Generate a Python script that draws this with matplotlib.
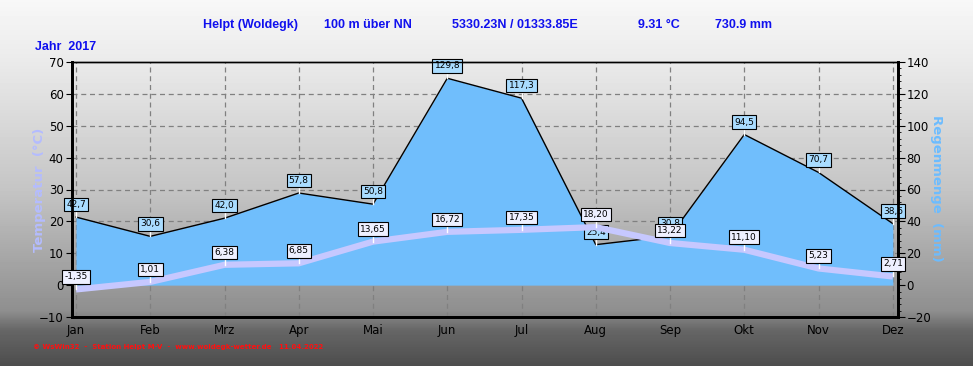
import numpy as np
import matplotlib
matplotlib.use("Agg")
import matplotlib.pyplot as plt
from matplotlib.ticker import MultipleLocator, AutoMinorLocator

months = ["Jan", "Feb", "Mrz", "Apr", "Mai", "Jun", "Jul", "Aug", "Sep", "Okt", "Nov", "Dez"]
rain = [42.7, 30.6, 42.0, 57.8, 50.8, 129.8, 117.3, 25.4, 30.8, 94.5, 70.7, 38.6]
temp = [-1.35, 1.01, 6.38, 6.85, 13.65, 16.72, 17.35, 18.20, 13.22, 11.10, 5.23, 2.71]

title_parts = [("Helpt (Woldegk)", 203), ("100 m über NN", 324),
               ("5330.23N / 01333.85E", 452), ("9.31 °C", 638), ("730.9 mm", 715)]

W, H = 973, 366
fig = plt.figure(figsize=(W / 100, H / 100), dpi=100)

# background gradient
bg = fig.add_axes([0, 0, 1, 1], zorder=-10)
yy = np.arange(H)
shade = np.interp(yy, [0, 60, 190, 310, 330, 366], [0.97, 0.92, 0.77, 0.56, 0.40, 0.30])
img = np.repeat(shade[:, None], 4, axis=1)
bg.imshow(img, cmap="gray", vmin=0, vmax=1, aspect="auto", extent=[0, 1, 0, 1])
bg.axis("off")

ax = fig.add_axes([72 / W, 1 - 317 / H, (898 - 72) / W, (317 - 62) / H])
ax.patch.set_alpha(0)
x = np.arange(len(months))
ax.set_xlim(-0.054, 11.07)
ax.set_ylim(-10, 70)

ax2 = ax.twinx()
ax2.set_ylim(-20, 140)

# grid below the rain area
for v in range(20, 140, 20):
    ax2.axhline(v, color="#808080", lw=0.9, ls=(0, (4, 3)), zorder=0)
for xi in x:
    ax2.axvline(xi, color="#808080", lw=0.9, ls=(0, (4, 3)), zorder=0)

ax2.fill_between(x, 0, rain, color="#70befc", zorder=1, lw=0)
ax2.plot(x, rain, color="black", lw=1, zorder=2)
ax.set_zorder(ax2.get_zorder() + 1)
ax.plot(x, temp, color="#c6c8ff", lw=4.5, zorder=3, solid_capstyle="butt")

box_rain = dict(boxstyle="square,pad=0.25", fc="#a9dcff", ec="black", lw=0.8)
box_temp = dict(boxstyle="square,pad=0.25", fc="#eef0ff", ec="black", lw=0.8)
for xi, r in zip(x, rain):
    ax2.annotate(f"{r:.1f}".replace(".", ","), (xi, r), xytext=(0, 9), textcoords="offset points",
                 ha="center", va="center", fontsize=6.5, bbox=box_rain, zorder=4)
    ax2.plot([xi, xi], [r, r + 4], color="white", lw=1, zorder=3)
for xi, t in zip(x, temp):
    ax.annotate(f"{t:.2f}".replace(".", ","), (xi, t), xytext=(0, 9), textcoords="offset points",
                ha="center", va="center", fontsize=6.5, bbox=box_temp, zorder=6)
    ax.plot([xi, xi], [t, t + 2.2], color="white", lw=1, zorder=5)

ax.set_xticks(x)
ax.set_xticklabels(months, fontsize=8.5)
ax.tick_params(axis="x", length=0, pad=5)
ax.yaxis.set_major_locator(MultipleLocator(10))
ax.tick_params(axis="y", direction="out", length=4, labelsize=8.5, pad=2)
ax2.yaxis.set_major_locator(MultipleLocator(20))
ax2.yaxis.set_minor_locator(AutoMinorLocator(5))
ax2.tick_params(axis="y", which="major", direction="out", length=5, labelsize=8.5, pad=1)
ax2.tick_params(axis="y", which="minor", direction="out", length=2.5)

for a in (ax, ax2):
    a.spines["left"].set_linewidth(2)
    a.spines["bottom"].set_linewidth(2)
    a.spines["right"].set_linewidth(2)
    a.spines["top"].set_linewidth(1)

fig.text(40 / W, 1 - 190 / H, "Temperatur  (°C)", rotation=90, ha="center", va="center",
         color="#b4bcff", fontsize=9.5, fontweight="bold")
fig.text(936 / W, 1 - 188 / H, "Regenmenge  (mm)", rotation=-90, ha="center", va="center",
         color="#6cbcff", fontsize=9.5, fontweight="bold")

for txt, px in title_parts:
    fig.text(px / W, 1 - 25 / H, txt, ha="left", va="center", color="#1010ee",
             fontsize=9, fontweight="bold", family="Liberation Sans")
fig.text(35 / W, 1 - 47 / H, "Jahr  2017", ha="left", va="center", color="#1010ee",
         fontsize=9, fontweight="bold", family="Liberation Sans")
fig.text(33 / W, 1 - 347 / H, "© WsWin32  -  Station Helpt M-V  -  www.woldegk-wetter.de   11.04.2022",
         ha="left", va="center", color="#ff1010", fontsize=5, fontweight="bold")

fig.savefig("out.png", dpi=100)
